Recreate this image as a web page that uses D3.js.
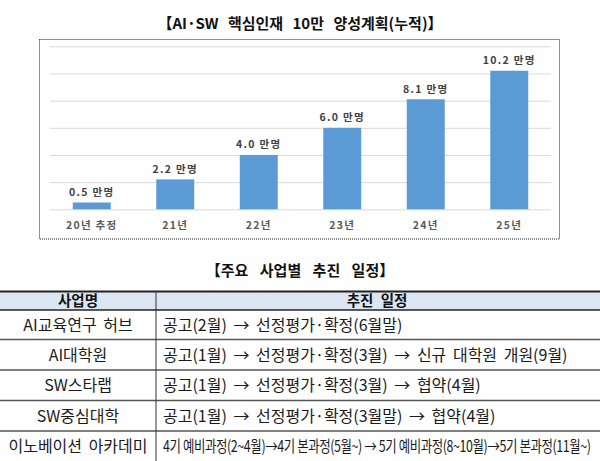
<!DOCTYPE html>
<html><head><meta charset="utf-8">
<script src="https://cdn.jsdelivr.net/npm/d3@7"></script>
<style>
html,body{margin:0;padding:0;background:#fff;}
svg{display:block;}
</style></head>
<body>
<svg id="c" width="600" height="461"></svg>
<script>
const chartTitle = "【AI·SW 핵심인재 10만 양성계획(누적)】";
const categories = ["20년 추정", "21년", "22년", "23년", "24년", "25년"];
const values = [0.5, 2.2, 4.0, 6.0, 8.1, 10.2];
const valueLabels = ["0.5 만명", "2.2 만명", "4.0 만명", "6.0 만명", "8.1 만명", "10.2 만명"];
const gridTicks = [0, 2, 4, 6, 8, 10, 12];

const tableTitle = "【주요 사업별 추진 일정】";
const tableHeaders = ["사업명", "추진 일정"];
const projects = ["AI교육연구 허브", "AI대학원", "SW스타랩", "SW중심대학", "이노베이션 아카데미"];
const schedules = [
  "공고(2월) → 선정평가·확정(6월말)",
  "공고(1월) → 선정평가·확정(3월) → 신규 대학원 개원(9월)",
  "공고(1월) → 선정평가·확정(3월) → 협약(4월)",
  "공고(1월) → 선정평가·확정(3월말) → 협약(4월)",
  "4기 예비과정(2~4월)→4기 본과정(5월~) → 5기 예비과정(8~10월)→5기 본과정(11월~)"
];

const svg = d3.select("#c");
const KR = "'Noto Sans CJK KR','Noto Sans',sans-serif";

// Chart title
svg.append("text").attr("x", 300).attr("y", 28.5)
  .attr("text-anchor", "middle").attr("font-family", KR).attr("font-weight", 700)
  .attr("font-size", 15).attr("fill", "#111")
  .attr("word-spacing", 6)
  .text(chartTitle);

// Dotted chart box
svg.append("rect").attr("x", 39.5).attr("y", 39.5).attr("width", 520).attr("height", 199.5)
  .attr("fill", "none").attr("stroke", "#222").attr("stroke-width", 1)
  .attr("stroke-dasharray", "1,1");

const x = d3.scaleBand().domain(categories).range([50, 551]).paddingInner(0.545).paddingOuter(0.2725);
const y = d3.scaleLinear().domain([0, 12]).range([209.3, 46.3]);

// Gridlines
const gAxis = svg.append("g").attr("transform", "translate(50,0)")
  .call(d3.axisLeft(y).tickValues(gridTicks).tickSize(-501).tickFormat(""));
gAxis.select(".domain").remove();
gAxis.selectAll(".tick line").attr("stroke", "#d9d9d9").attr("stroke-width", 1);

// Bars
svg.append("g").selectAll("rect").data(values).join("rect")
  .attr("x", (d, i) => x(categories[i]))
  .attr("y", d => y(d))
  .attr("width", x.bandwidth())
  .attr("height", d => y(0) - y(d))
  .attr("fill", "#5b9bd5");

// Value labels
svg.append("g").selectAll("text").data(values).join("text")
  .attr("x", (d, i) => x(categories[i]) + x.bandwidth() / 2)
  .attr("y", d => y(d) - 6.5)
  .attr("text-anchor", "middle").attr("font-family", KR).attr("font-weight", 700)
  .attr("font-size", 10.5).attr("letter-spacing", 1.3).attr("fill", "#404040")
  .text((d, i) => valueLabels[i]);

// Category axis
const xAxis = svg.append("g").attr("transform", "translate(0,209.3)")
  .call(d3.axisBottom(x).tickSize(0).tickPadding(12));
xAxis.select(".domain").remove();
xAxis.selectAll("text").attr("font-family", KR).attr("font-weight", 700)
  .attr("font-size", 10.5).attr("letter-spacing", 1.3).attr("fill", "#595959");

// Table title
svg.append("text").attr("x", 300).attr("y", 276)
  .attr("text-anchor", "middle").attr("font-family", KR).attr("font-weight", 700)
  .attr("font-size", 15).attr("fill", "#111")
  .attr("word-spacing", 8)
  .text(tableTitle);

// Table
const colX = [0, 156, 600];
const rowY = [291.5, 310, 339.5, 370, 400.5, 431, 461];

svg.append("rect").attr("x", 0).attr("y", rowY[0]).attr("width", 600).attr("height", rowY[1] - rowY[0])
  .attr("fill", "#dce6f2");

svg.append("g").selectAll("line").data(rowY.slice(0, 6)).join("line")
  .attr("x1", 0).attr("x2", 600).attr("y1", d => d).attr("y2", d => d)
  .attr("stroke", (d, i) => i < 2 ? "#222" : "#555")
  .attr("stroke-width", (d, i) => i === 0 ? 2 : 1.5);
svg.append("line").attr("x1", colX[1]).attr("x2", colX[1]).attr("y1", rowY[0]).attr("y2", 461)
  .attr("stroke", "#333").attr("stroke-width", 1);

svg.append("g").selectAll("text").data(tableHeaders).join("text")
  .attr("x", (d, i) => (colX[i] + colX[i + 1]) / 2 - (i === 1 ? 1 : 0))
  .attr("y", (rowY[0] + rowY[1]) / 2 + 5.5)
  .attr("text-anchor", "middle").attr("font-family", KR).attr("font-weight", 700)
  .attr("font-size", 14.5).attr("fill", "#111")
  .attr("word-spacing", 4)
  .text(d => d);

svg.append("g").selectAll("text").data(projects).join("text")
  .attr("x", 78)
  .attr("y", (d, i) => (rowY[i + 1] + rowY[i + 2]) / 2 + 6)
  .attr("text-anchor", "middle").attr("font-family", KR).attr("font-weight", 400)
  .attr("font-size", 16).attr("fill", "#1a1a1a")
  .attr("word-spacing", 3)
  .text(d => d);

svg.append("g").selectAll("text").data(schedules).join("text")
  .attr("font-family", KR).attr("font-weight", 400)
  .attr("font-size", 16).attr("fill", "#1a1a1a")
  .attr("word-spacing", 3)
  .text(d => d)
  .each(function (d, i) {
    const ty = (rowY[i + 1] + rowY[i + 2]) / 2 + 6;
    let sx = 1;
    if (i === 4) {
      d3.select(this).attr("word-spacing", 0).attr("letter-spacing", -0.5);
      sx = 428 / this.getComputedTextLength();
    }
    d3.select(this).attr("transform", `translate(163,${ty}) scale(${sx},1)`);
  });
</script>
</body></html>
